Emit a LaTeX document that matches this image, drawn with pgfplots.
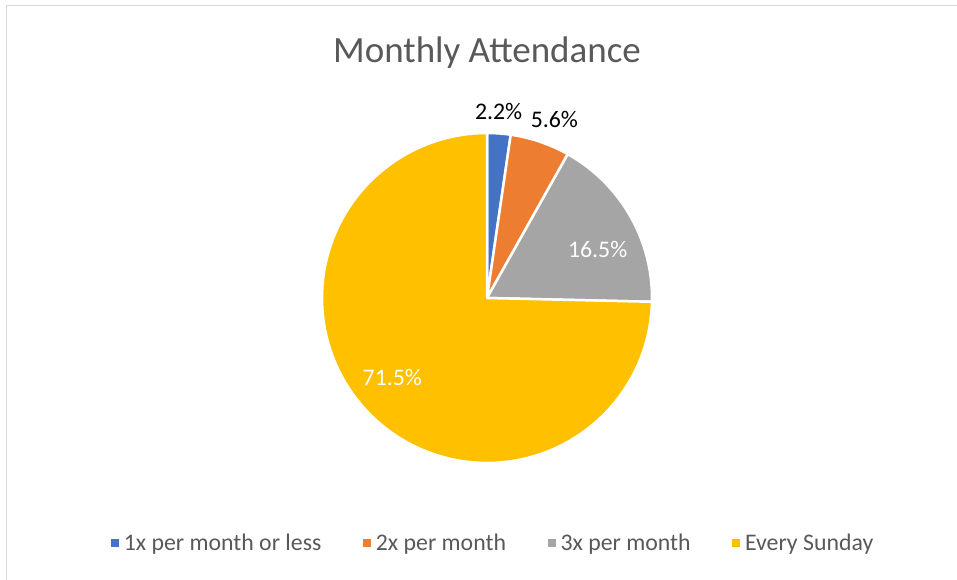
\documentclass[border=0pt]{standalone}
\usepackage{fontspec}
\setmainfont{Carlito}
\usepackage{pgfplots}
\usepackage{pgfplotstable}
\pgfplotsset{compat=1.18}
\usepgfplotslibrary{polar}
\definecolor{cA}{HTML}{4472C4}
\definecolor{cB}{HTML}{ED7D31}
\definecolor{cC}{HTML}{A5A5A5}
\definecolor{cD}{HTML}{FFC000}
\definecolor{txtgray}{HTML}{595959}
\definecolor{framegray}{HTML}{D9D9D9}

\pgfplotstableread{
category value
A 2.2
B 5.6
C 16.5
D 71.5
}\pietable

\pgfplotsset{
  sqlegend/.style={legend image code/.code={%
      \fill[fill=#1, draw=none] (0pt,-4pt) rectangle (8pt,4pt);
      \path[draw=none, fill=none] (0pt,0pt) -- (11pt,0pt);}},
}

\begin{document}
\begin{tikzpicture}
\useasboundingbox (0pt,0pt) rectangle (957pt,580pt);
\fill[white] (0pt,0pt) rectangle (957pt,580pt);
\draw[framegray, line width=1.5pt] (6.5pt,-2pt) -- (6.5pt,574.5pt) -- (960pt,574.5pt);

\pgfplotstablegetelem{0}{value}\of\pietable \let\va\pgfplotsretval
\pgfplotstablegetelem{1}{value}\of\pietable \let\vb\pgfplotsretval
\pgfplotstablegetelem{2}{value}\of\pietable \let\vc\pgfplotsretval
\pgfplotstablegetelem{3}{value}\of\pietable \let\vd\pgfplotsretval
\pgfmathsetmacro{\tot}{\va+\vb+\vc+\vd}
\pgfmathsetmacro{\aA}{90}
\pgfmathsetmacro{\aB}{\aA-360*(\va/\tot)}
\pgfmathsetmacro{\aC}{\aB-360*(\vb/\tot)}
\pgfmathsetmacro{\aD}{\aC-360*(\vc/\tot)}
\pgfmathsetmacro{\aE}{\aD-360*(\vd/\tot)}

\begin{polaraxis}[
  at={(487pt,282pt)}, anchor=center,
  scale only axis, width=330pt, height=330pt,
  ymin=0, ymax=1, hide axis, clip=false,
  title={Monthly Attendance},
  title style={at={(axis description cs:0.5,1)}, anchor=base, yshift=56pt,
    font=\fontsize{37}{44}\selectfont, text=txtgray},
  legend columns=4,
  legend style={draw=none, fill=none,
    at={(axis description cs:0.5183,-0.2425)}, anchor=center,
    font=\fontsize{23.8}{28}\selectfont, text=txtgray,
    /tikz/every even column/.append style={column sep=39.5pt}},
]
\addplot[draw=white, line width=2.5pt, line join=round, fill=cA, sqlegend=cA, domain=\aB:\aA, samples=6] {1} -- (axis cs:0,0) -- cycle;
\addlegendentry{1x per month or less}
\addplot[draw=white, line width=2.5pt, line join=round, fill=cB, sqlegend=cB, domain=\aC:\aB, samples=12] {1} -- (axis cs:0,0) -- cycle;
\addlegendentry{2x per month}
\addplot[draw=white, line width=2.5pt, line join=round, fill=cC, sqlegend=cC, domain=\aD:\aC, samples=30] {1} -- (axis cs:0,0) -- cycle;
\addlegendentry{3x per month}
\addplot[draw=white, line width=2.5pt, line join=round, fill=cD, sqlegend=cD, domain=\aE:\aD, samples=120] {1} -- (axis cs:0,0) -- cycle;
\addlegendentry{Every Sunday}

\node[font=\fontsize{23.8}{28}\selectfont, text=black] at (axis cs:86.45,1.133) {2.2\%};
\node[font=\fontsize{23.8}{28}\selectfont, text=black] at (axis cs:69.27,1.154) {5.6\%};
\node[font=\fontsize{23.8}{28}\selectfont, text=white] at (axis cs:23.6,0.732) {16.5\%};
\node[font=\fontsize{23.8}{28}\selectfont, text=white] at (axis cs:220.0,0.749) {71.5\%};
\end{polaraxis}
\end{tikzpicture}
\end{document}
